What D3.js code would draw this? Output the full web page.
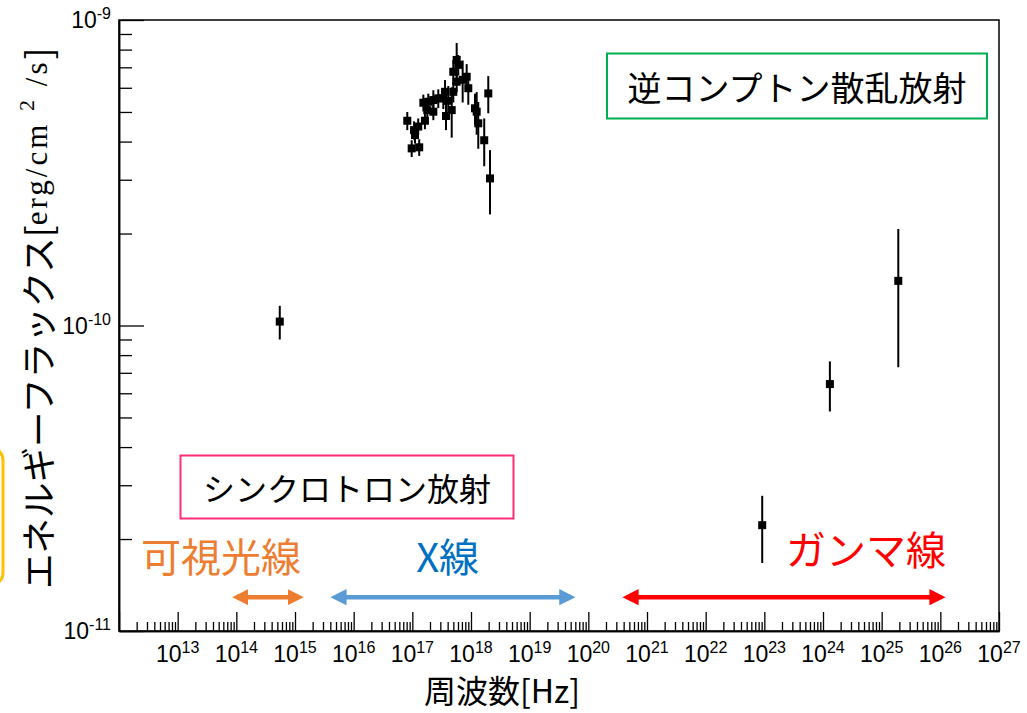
<!DOCTYPE html>
<html>
<head>
<meta charset="utf-8">
<script src="https://cdn.jsdelivr.net/npm/d3@7/dist/d3.min.js"></script>
<style>
  body { margin: 0; background: #fff; }
  svg { display: block; }
</style>
</head>
<body>
<div id="chart"></div>
<script>
// 観測点 (周波数 Hz, フラックス erg/cm2/s, 誤差)
const freq = [
  5.5e14,
  8.2e16, 9.75e16, 1.31e17, 1.07e17, 1.11e17, 1.26e17, 1.64e17, 1.54e17,
  1.87e17, 2.28e17, 1.80e17, 2.28e17, 2.77e17, 3.37e17, 3.61e17, 3.75e17,
  4.69e17, 4.10e17, 4.99e17, 5.70e17, 4.99e17, 5.70e17, 6.07e17, 7.21e17,
  8.44e17, 8.99e17, 1.17e18, 1.25e18, 1.33e18, 1.68e18, 1.97e18, 2.11e18,
  9.2e22, 1.31e24, 1.92e25
];
const flux = [
  1.03e-10,
  4.68e-10, 3.80e-10, 3.83e-10, 4.36e-10, 4.20e-10, 4.48e-10, 4.68e-10, 5.36e-10,
  5.40e-10, 5.47e-10, 5.07e-10, 5.01e-10, 5.54e-10, 5.54e-10, 5.82e-10, 4.85e-10,
  5.07e-10, 5.44e-10, 5.82e-10, 6.28e-10, 6.77e-10, 7.40e-10, 7.13e-10, 6.37e-10,
  6.52e-10, 5.98e-10, 5.14e-10, 5.01e-10, 4.59e-10, 4.04e-10, 5.75e-10, 3.03e-10,
  2.22e-11, 6.43e-11, 1.40e-10
];
const fluxErr = [
  0.13e-10,
  0.32e-10, 0.24e-10, 0.24e-10, 0.30e-10, 0.26e-10, 0.28e-10, 0.29e-10, 0.34e-10,
  0.34e-10, 0.42e-10, 0.27e-10, 0.31e-10, 0.39e-10, 0.43e-10, 0.54e-10, 0.49e-10,
  0.95e-10, 0.64e-10, 0.45e-10, 0.48e-10, 0.63e-10, 1.01e-10, 0.55e-10, 1.00e-10,
  0.65e-10, 0.70e-10, 0.60e-10, 0.80e-10, 0.80e-10, 0.72e-10, 0.80e-10, 0.72e-10,
  0.55e-11, 1.2e-11, 0.67e-10
];

// 軸の目盛り (指数)
const xExp = d3.range(12, 28);
const xLabelExp = d3.range(13, 28);
const yExp = [-11, -10, -9];

// 帯域の矢印 [開始Hz, 終了Hz, 色]
const bandFrom = [8.7e13, 4.1e15, 3.9e20];
const bandTo = [1.38e15, 5.9e19, 1.2e26];
const bandColor = ['#ed7d31', '#5b9bd5', '#ff0000'];
const bandArrowFlux = 1.29e-11;

// 帯域ラベル
const bandLabel = ['可視光線', 'X線', 'ガンマ線'];
const bandLabelFreq = [5.5e13, 4.0e17, 5.4e24];
const bandLabelFlux = [1.77e-11, 1.77e-11, 1.87e-11];
const bandLabelColor = ['#ed7d31', '#0070c0', '#ff0000'];

const width = 1027, height = 713;
const margin = { left: 119, right: 28, top: 20, bottom: 82 };

const svg = d3.select('#chart').append('svg')
  .attr('width', width)
  .attr('height', height);

const x = d3.scaleLog().domain([1e12, 1e27]).range([margin.left, width - margin.right]);
const y = d3.scaleLog().domain([1e-11, 1e-9]).range([height - margin.bottom, margin.top]);

const tickFont = '"Liberation Sans", Arial, sans-serif';
const jpFont = '"Noto Sans CJK JP", "Noto Sans", sans-serif';
const serifFont = '"Liberation Serif", "Times New Roman", serif';

// 左端の黄色い枠 (一部のみ見える)
svg.append('rect')
  .attr('x', -100).attr('y', 448)
  .attr('width', 103).attr('height', 137)
  .attr('rx', 12)
  .attr('fill', '#fff')
  .attr('stroke', '#ffc000')
  .attr('stroke-width', 3);

// 目盛り
const minorX = [];
xExp.slice(0, -1).forEach(e => d3.range(2, 10).forEach(m => minorX.push(m * Math.pow(10, e))));
const minorY = [];
yExp.slice(0, -1).forEach(e => d3.range(2, 10).forEach(m => minorY.push(m * Math.pow(10, e))));

const gx = svg.append('g').attr('transform', `translate(0,${height - margin.bottom})`);
gx.call(d3.axisBottom(x).tickValues(xExp.map(e => Math.pow(10, e))).tickSize(-19).tickSizeOuter(0).tickFormat(''));
gx.append('g').call(d3.axisBottom(x).tickValues(minorX).tickSize(-9).tickSizeOuter(0).tickFormat(''));

const gy = svg.append('g').attr('transform', `translate(${margin.left},0)`);
gy.call(d3.axisLeft(y).tickValues(yExp.map(e => Math.pow(10, e))).tickSize(-25).tickSizeOuter(0).tickFormat(''));
gy.append('g').call(d3.axisLeft(y).tickValues(minorY).tickSize(-13).tickSizeOuter(0).tickFormat(''));

svg.selectAll('.domain').attr('stroke', '#000').attr('stroke-width', 1.5);
svg.selectAll('.tick line').attr('stroke', '#000').attr('stroke-width', 1.3);

// 枠
svg.append('rect')
  .attr('x', margin.left).attr('y', margin.top)
  .attr('width', width - margin.right - margin.left)
  .attr('height', height - margin.bottom - margin.top)
  .attr('fill', 'none')
  .attr('stroke', '#000')
  .attr('stroke-width', 1.5);

// 目盛りラベル (10^n)
function powerLabel(sel, exp) {
  sel.append('tspan').text('10').attr('font-size', 23);
  sel.append('tspan').text(exp).attr('font-size', 16).attr('dy', -9);
}

svg.append('g').selectAll('text')
  .data(xLabelExp)
  .join('text')
  .attr('x', d => x(Math.pow(10, d)))
  .attr('y', height - margin.bottom + 31)
  .attr('text-anchor', 'middle')
  .attr('font-family', tickFont)
  .attr('fill', '#000')
  .each(function (d) { powerLabel(d3.select(this), d); });

svg.append('g').selectAll('text')
  .data(yExp)
  .join('text')
  .attr('x', margin.left - 8)
  .attr('y', d => y(Math.pow(10, d)) + 8)
  .attr('text-anchor', 'end')
  .attr('font-family', tickFont)
  .attr('fill', '#000')
  .each(function (d) { powerLabel(d3.select(this), d); });

// 軸タイトル
svg.append('text')
  .attr('x', 502).attr('y', 703)
  .attr('text-anchor', 'middle')
  .attr('font-family', jpFont)
  .attr('font-size', 32)
  .text('周波数[Hz]');

const yt = svg.append('text')
  .attr('transform', 'translate(36,589) rotate(-90)')
  .attr('dominant-baseline', 'central')
  .attr('font-family', jpFont)
  .attr('font-size', 35.5);
yt.append('tspan').text('エネルギーフラックス[');
yt.append('tspan').attr('font-family', serifFont).attr('font-size', 31).attr('letter-spacing', 3).text('erg/cm ');
yt.append('tspan').attr('font-family', serifFont).attr('font-size', 22).attr('dy', -10).attr('letter-spacing', 3).text('2');
yt.append('tspan').attr('font-family', serifFont).attr('font-size', 31).attr('dy', 10).attr('letter-spacing', 3).text(' /s');
yt.append('tspan').text(']');

// 誤差棒とマーカー
const pts = freq.map((f, i) => ({ f, v: flux[i], e: fluxErr[i] }));

svg.append('g').selectAll('line')
  .data(pts)
  .join('line')
  .attr('x1', d => x(d.f)).attr('x2', d => x(d.f))
  .attr('y1', d => y(d.v + d.e)).attr('y2', d => y(d.v - d.e))
  .attr('stroke', '#000')
  .attr('stroke-width', 2);

svg.append('g').selectAll('rect')
  .data(pts)
  .join('rect')
  .attr('x', d => x(d.f) - 4).attr('y', d => y(d.v) - 4)
  .attr('width', 8).attr('height', 8)
  .attr('fill', '#000');

// 帯域の矢印
const defs = svg.append('defs');
bandColor.forEach((c, i) => {
  defs.append('marker')
    .attr('id', 'ah' + i)
    .attr('viewBox', '0 0 10 10')
    .attr('refX', 1).attr('refY', 5)
    .attr('markerWidth', 3.6).attr('markerHeight', 3.6)
    .attr('markerUnits', 'strokeWidth')
    .attr('orient', 'auto-start-reverse')
    .append('path')
    .attr('d', 'M0,0 L10,5 L0,10 Z')
    .attr('fill', c);
});

svg.append('g').selectAll('line')
  .data(bandColor)
  .join('line')
  .attr('x1', (d, i) => x(bandFrom[i]) + 14)
  .attr('x2', (d, i) => x(bandTo[i]) - 14)
  .attr('y1', y(bandArrowFlux)).attr('y2', y(bandArrowFlux))
  .attr('stroke', d => d)
  .attr('stroke-width', 4.5)
  .attr('marker-start', (d, i) => `url(#ah${i})`)
  .attr('marker-end', (d, i) => `url(#ah${i})`);

svg.append('g').selectAll('text')
  .data(bandLabel)
  .join('text')
  .attr('x', (d, i) => x(bandLabelFreq[i]))
  .attr('y', (d, i) => y(bandLabelFlux[i]))
  .attr('text-anchor', 'middle')
  .attr('dominant-baseline', 'central')
  .attr('font-family', jpFont)
  .attr('font-size', 40)
  .attr('fill', (d, i) => bandLabelColor[i])
  .text(d => d);

// 放射の種類の枠
function labelBox(cx, cy, w, h, color, label, size) {
  svg.append('rect')
    .attr('x', cx - w / 2).attr('y', cy - h / 2)
    .attr('width', w).attr('height', h)
    .attr('fill', '#fff')
    .attr('stroke', color)
    .attr('stroke-width', 2);
  svg.append('text')
    .attr('x', cx).attr('y', cy)
    .attr('text-anchor', 'middle')
    .attr('dominant-baseline', 'central')
    .attr('font-family', jpFont)
    .attr('font-size', size)
    .attr('fill', '#000')
    .text(label);
}
labelBox(797, 86, 380, 65, '#00b050', '逆コンプトン散乱放射', 34);
labelBox(347, 487, 333, 63, '#ff2d78', 'シンクロトロン放射', 32);
</script>
</body>
</html>
